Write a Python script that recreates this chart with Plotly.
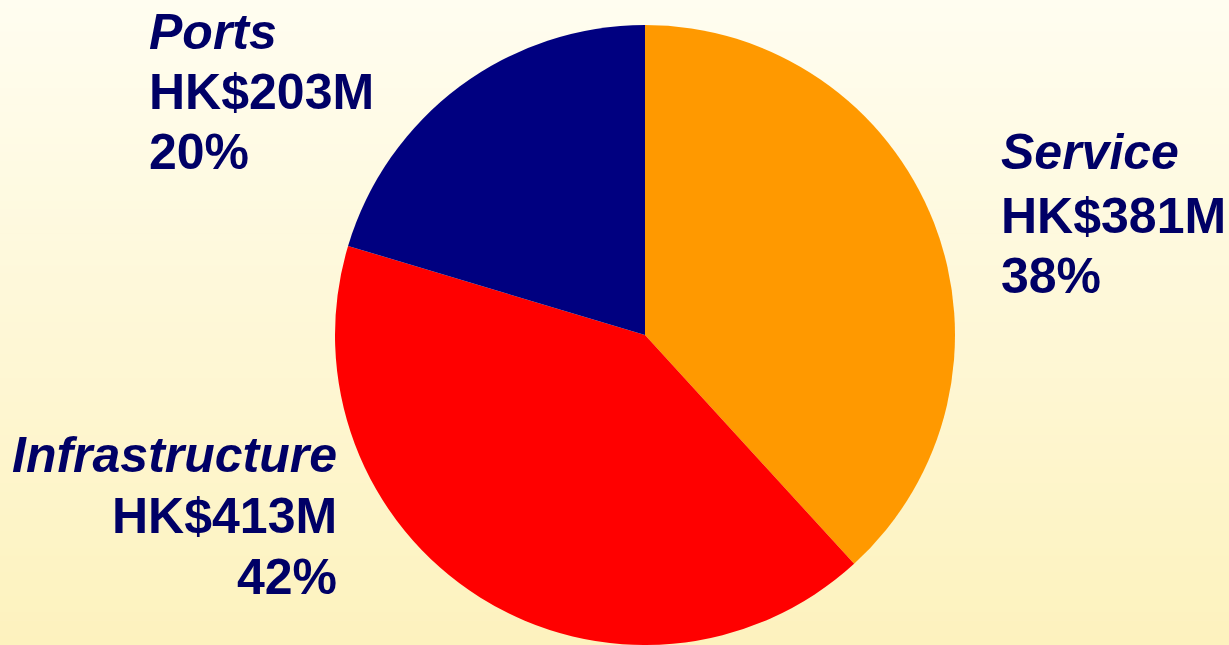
import plotly.graph_objects as go

categories = ["Service", "Infrastructure", "Ports"]
values = [381, 413, 203]
amount_labels = ["HK$381M", "HK$413M", "HK$203M"]
pct_labels = ["38%", "42%", "20%"]
colors = ["#FF9900", "#FF0000", "#000080"]

W, H = 1229, 645
fig = go.Figure()

fig.add_trace(go.Pie(
    labels=categories, values=values, sort=False, direction="clockwise", rotation=0,
    marker=dict(colors=colors, line=dict(width=0)),
    textinfo="none", hoverinfo="label+value+percent", showlegend=False,
    domain=dict(x=[(645 - 320) / W, (645 + 320) / W], y=[0, 620 / H]),
))

# background gradient bands
shapes = []
n = 80
top = (255, 253, 240)
bot = (253, 242, 190)
for i in range(n):
    t = i / (n - 1)
    c = tuple(round(top[k] + (bot[k] - top[k]) * t) for k in range(3))
    shapes.append(dict(type="rect", xref="paper", yref="paper", x0=0, x1=1,
                       y0=1 - (i + 1) / n, y1=1 - i / n + 0.001, layer="below",
                       line=dict(width=0), fillcolor="rgb(%d,%d,%d)" % c))

txt = "#000066"
font_family = "Arial, 'Liberation Sans', sans-serif"
fs = 50
# label placements: (x px, anchor, [cap-center y px for 3 lines])
place = {
    "Service": (999, "left", [152, 215.5, 276]),
    "Infrastructure": (339, "right", [455, 516, 577]),
    "Ports": (147, "left", [32, 92, 152]),
}
annotations = []
for cat, amt, pct in zip(categories, amount_labels, pct_labels):
    x, anc, ys = place[cat]
    for j, s in enumerate([f"<i><b>{cat}</b></i>", f"<b>{amt}</b>", f"<b>{pct}</b>"]):
        annotations.append(dict(text=s, x=x / W, y=1 - ys[j] / H, xref="paper", yref="paper",
                                xanchor=anc, yanchor="middle", showarrow=False,
                                font=dict(size=fs, color=txt, family=font_family)))

fig.update_layout(width=W, height=H, margin=dict(l=0, r=0, t=0, b=0),
                  paper_bgcolor="rgb(254,248,215)", plot_bgcolor="rgba(0,0,0,0)",
                  shapes=shapes, annotations=annotations)
fig.write_html("out.html")
